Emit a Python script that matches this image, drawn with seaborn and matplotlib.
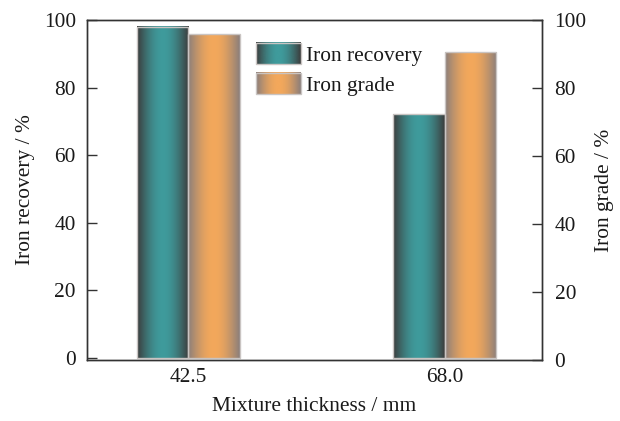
import numpy as np
import pandas as pd
import matplotlib
matplotlib.use("Agg")
import matplotlib.pyplot as plt
import seaborn as sns
from matplotlib.colors import LinearSegmentedColormap, Normalize, to_rgb
from matplotlib.legend_handler import HandlerBase
from matplotlib.image import BboxImage
from matplotlib.transforms import Bbox, TransformedBbox
from matplotlib.patches import Rectangle

# Data
thickness = ["42.5", "68.0"]
iron_recovery = [98.0, 72.1]
iron_grade = [95.8, 90.5]
metrics = ["Iron recovery", "Iron grade"]

sns.set_theme(style="white")
plt.rcParams["font.family"] = ["Liberation Serif", "DejaVu Serif"]

FS = 15.4
EDGE = "#c9c4c2"
TXT = "#1a1a1a"

# Cylinder-style shading: dark rims, bright centre
rec_cmap = LinearSegmentedColormap.from_list("rec", ["#3c3c3c", "#3f9b9c"])
grd_cmap = LinearSegmentedColormap.from_list("grd", ["#8a7e7b", "#f3a85b"])
palette = {metrics[0]: "#3f9b9c", metrics[1]: "#f3a85b"}
cmaps = {metrics[0]: rec_cmap, metrics[1]: grd_cmap}

t = np.linspace(0, 1, 256)
profile = np.sin(np.pi * t) ** 1.0
gradient = profile[np.newaxis, :]

df = pd.DataFrame({
    "thickness": thickness * 2,
    "value": iron_recovery + iron_grade,
    "metric": [metrics[0]] * len(thickness) + [metrics[1]] * len(thickness),
})

fig = plt.figure(figsize=(6.2, 4.21), dpi=100)
ax = fig.add_axes([87 / 620, 1 - 360 / 421, (542 - 87) / 620, (360 - 20) / 421])
ax2 = ax.twinx()

sns.barplot(data=df, x="thickness", y="value", hue="metric", hue_order=metrics,
            palette=palette, width=0.4, ax=ax, legend=False, err_kws={"linewidth": 0})

# Replace flat fills with horizontal shading
for p in list(ax.patches):
    h = p.get_height()
    if h == 0 or np.isnan(h):
        p.remove()
        continue
    fc = np.array(p.get_facecolor()[:3])
    metric = min(metrics, key=lambda m: np.abs(np.array(to_rgb(palette[m])) - fc).sum())
    x, y, w = p.get_x(), p.get_y(), p.get_width()
    ax.imshow(gradient, extent=[x, x + w, y, y + h], aspect="auto", cmap=cmaps[metric],
              vmin=0, vmax=1, interpolation="bicubic", zorder=p.get_zorder())
    p.set_facecolor("none")
    p.set_edgecolor(EDGE)
    p.set_linewidth(1.0)
    p.set_zorder(p.get_zorder() + 0.1)

ax.set_xlim(-0.395, 1.379)
ax.set_ylim(-0.6, 100)
ax2.set_ylim(0, 100)

ticks = [0, 20, 40, 60, 80, 100]
for a in (ax, ax2):
    a.set_yticks(ticks)
    a.set_yticklabels([str(v) for v in ticks])
    a.grid(False)
    for s in a.spines.values():
        s.set_color("#333333")
        s.set_linewidth(1.0)

ax.tick_params(axis="y", direction="in", length=7, width=1, color="#333333",
               labelsize=FS, pad=8, left=True, labelcolor=TXT)
ax2.tick_params(axis="y", direction="in", length=7, width=1, color="#333333",
                labelsize=FS, pad=9, right=True, labelcolor=TXT)
ax.tick_params(axis="x", length=0, labelsize=FS, pad=6, labelcolor=TXT)

ax.set_xlabel("Mixture thickness / mm", fontsize=FS, color=TXT, labelpad=7)
ax.set_ylabel("Iron recovery / %", fontsize=FS, color=TXT, labelpad=6)
ax2.set_ylabel("Iron grade / %", fontsize=FS, color=TXT, labelpad=6)


class GradientHandle:
    def __init__(self, cmap):
        self.cmap = cmap


class GradientHandler(HandlerBase):
    def create_artists(self, legend, orig_handle, xdescent, ydescent, width, height,
                       fontsize, trans):
        bb = Bbox.from_bounds(-xdescent, -ydescent, width, height)
        img = BboxImage(TransformedBbox(bb, trans), cmap=orig_handle.cmap,
                        norm=Normalize(0, 1), interpolation="bicubic")
        img.set_data(gradient)
        frame = Rectangle((-xdescent, -ydescent), width, height, fill=False,
                          edgecolor=EDGE, linewidth=1.0, transform=trans)
        return [img, frame]


handles = [GradientHandle(rec_cmap), GradientHandle(grd_cmap)]
ax2.legend(handles, metrics, handler_map={GradientHandle: GradientHandler()},
           loc="upper left", bbox_to_anchor=(0.33, 0.99), frameon=False,
           fontsize=FS, handlelength=2.1, handleheight=1.15, handletextpad=0.2,
           labelspacing=0.35, labelcolor=TXT)

fig.savefig("out.png", dpi=100, facecolor="white")
